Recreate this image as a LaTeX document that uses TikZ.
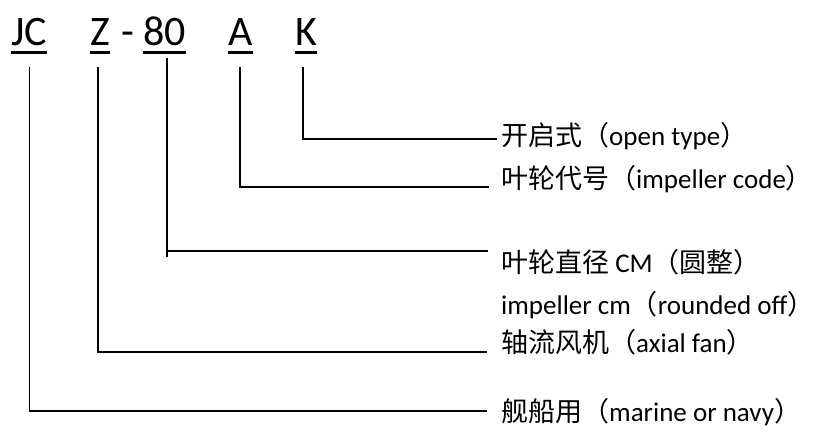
\documentclass[tikz,border=0pt]{standalone}
\usepackage{fontspec}
\setmainfont{Carlito}
\newfontfamily\cjk{Noto Sans CJK SC}
\usetikzlibrary{calc}
\begin{document}
\begin{tikzpicture}[x=1pt,y=-1pt,
  conn/.style={line width=1.8pt},
  ul/.style={line width=3.2pt},
  code/.style={font=\fontsize{42}{48}\selectfont, inner sep=0pt, anchor=base west},
  lab/.style={font=\fontsize{27}{32}\selectfont, inner sep=0pt, anchor=base west}]
\useasboundingbox (0,0) rectangle (816,441);
% code letters
\node[code] (jc) at (11,46) {JC};
\node[code] (z) at (90,46) {Z};
\node[code] (dash) at (121,46) {-};
\node[code] (n80) at (143,46) {80};
\node[code] (a) at (228,46) {A};
\node[code] (k) at (295,46) {K};
\foreach \n in {jc,z,n80,a,k}
  \draw[ul] ($(\n.base west)+(0,6.7)$) -- ($(\n.base east)+(0,6.7)$);
% labels
\node[lab] (lk) at (501,146) {{\cjk 开启式（}open type{\cjk ）}};
\node[lab] (la) at (501,188) {{\cjk 叶轮代号（}impeller code{\cjk ）}};
\node[lab] (l80) at (501,272) {{\cjk 叶轮直径} CM{\cjk （圆整）}};
\node[lab] (l80b) at (501,314) {impeller cm{\cjk （}rounded off{\cjk ）}};
\node[lab] (lz) at (501,352) {{\cjk 轴流风机（}axial fan{\cjk ）}};
\node[lab] (ljc) at (501,421) {{\cjk 舰船用（}marine or navy{\cjk ）}};
% connector anchor points
\coordinate (kt) at (303,67);   \coordinate (ke) at (497,139);
\coordinate (at) at (240,67);   \coordinate (ae) at (489,187);
\coordinate (nt) at (167,58);   \coordinate (nb) at (167,257); \coordinate (ne) at (488,251);
\coordinate (zt) at (98,67);    \coordinate (ze) at (487,352);
\coordinate (jt) at (29.5,67);  \coordinate (je) at (487,411);
\draw[conn] (kt) |- (ke);
\draw[conn] (at) |- (ae);
\draw[conn] (nt) -- (nb);
\draw[conn] (nt |- ne) -- (ne);
\draw[conn] (zt) |- (ze);
\draw[conn] (jt) |- (je);
\end{tikzpicture}
\end{document}
